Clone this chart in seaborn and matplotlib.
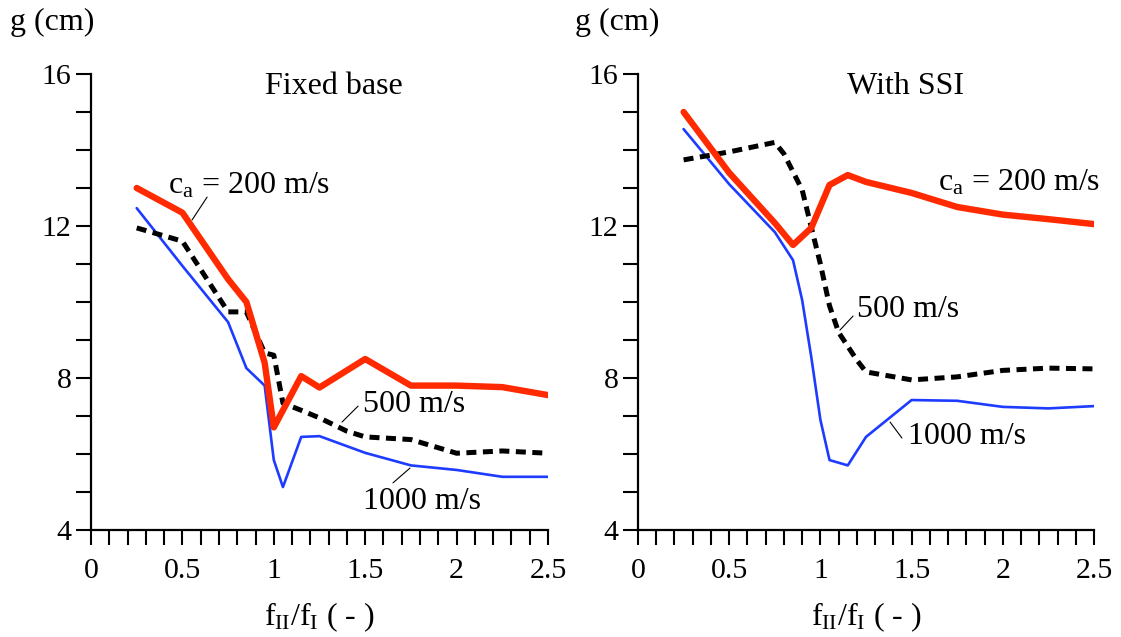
import matplotlib
matplotlib.use("Agg")
import matplotlib.pyplot as plt
import numpy as np
import pandas as pd
import seaborn as sns

# ---- data ----
# fixed base
fb_x_200 = [0.25, 0.5, 0.75, 0.85, 0.95, 1.0, 1.15, 1.25, 1.5, 1.75, 2.0, 2.25, 2.5]
fb_g_200 = [13.0, 12.35, 10.6, 10.0, 8.4, 6.7, 8.05, 7.75, 8.5, 7.8, 7.8, 7.76, 7.55]
fb_x_500 = [0.25, 0.5, 0.75, 0.85, 0.95, 1.0, 1.05, 1.15, 1.25, 1.4, 1.5, 1.75, 2.0, 2.25, 2.5]
fb_g_500 = [11.95, 11.6, 9.74, 9.74, 8.66, 8.6, 7.34, 7.15, 6.95, 6.6, 6.45, 6.38, 6.02, 6.08, 6.02]
fb_x_1000 = [0.25, 0.5, 0.75, 0.85, 0.95, 1.0, 1.05, 1.15, 1.25, 1.5, 1.75, 2.0, 2.25, 2.5]
fb_g_1000 = [12.47, 10.95, 9.47, 8.26, 7.8, 5.84, 5.13, 6.45, 6.47, 6.03, 5.7, 5.58, 5.4, 5.4]

# with SSI
ssi_x_200 = [0.25, 0.5, 0.75, 0.85, 0.95, 1.05, 1.15, 1.25, 1.5, 1.75, 2.0, 2.25, 2.5]
ssi_g_200 = [15.0, 13.4, 12.08, 11.5, 11.95, 13.08, 13.34, 13.16, 12.87, 12.5, 12.3, 12.18, 12.05]
ssi_x_500 = [0.25, 0.5, 0.75, 0.8, 0.9, 0.95, 1.0, 1.05, 1.1, 1.2, 1.25, 1.5, 1.75, 2.0, 2.25, 2.5]
ssi_g_500 = [13.74, 13.95, 14.2, 13.9, 12.95, 11.97, 11.0, 9.9, 9.2, 8.47, 8.16, 7.95, 8.03, 8.2, 8.26, 8.24]
ssi_x_1000 = [0.25, 0.5, 0.75, 0.85, 0.9, 0.95, 1.0, 1.05, 1.15, 1.25, 1.5, 1.75, 2.0, 2.25, 2.5]
ssi_g_1000 = [14.55, 13.1, 11.84, 11.1, 10.05, 8.55, 6.9, 5.84, 5.7, 6.45, 7.42, 7.4, 7.24, 7.2, 7.26]

titles = ["Fixed base", "With SSI"]
x_ticks = [0, 0.5, 1, 1.5, 2, 2.5]
x_tick_labels = ["0", "0.5", "1", "1.5", "2", "2.5"]
y_ticks = [4, 8, 12, 16]

sns.set_style("ticks")
plt.rcParams["font.family"] = ["Liberation Serif", "DejaVu Serif"]
plt.rcParams["mathtext.fontset"] = "custom"
plt.rcParams["mathtext.rm"] = "Liberation Serif"
plt.rcParams["mathtext.it"] = "Liberation Serif:italic"
for k in ["text.color", "axes.labelcolor", "xtick.color", "ytick.color", "axes.edgecolor"]:
    plt.rcParams[k] = "black"
FS = 23      # labels
TFS = 21.5   # tick labels

fig = plt.figure(figsize=(11.21, 6.37), dpi=100)
ax1 = fig.add_axes([91 / 1121, 107 / 637, 457 / 1121, 456 / 637])
ax2 = fig.add_axes([638 / 1121, 107 / 637, 456 / 1121, 456 / 637])

panels = [
    (ax1, (fb_x_200, fb_g_200), (fb_x_500, fb_g_500), (fb_x_1000, fb_g_1000)),
    (ax2, (ssi_x_200, ssi_g_200), (ssi_x_500, ssi_g_500), (ssi_x_1000, ssi_g_1000)),
]

for ax, s200, s500, s1000 in panels:
    sns.lineplot(x=s1000[0], y=s1000[1], ax=ax, color="#1e3cff", lw=1.9, sort=False)
    sns.lineplot(x=s500[0], y=s500[1], ax=ax, color="black", lw=3.6, sort=False,
                 dashes=False)
    ax.lines[-1].set_dashes((2.0, 1.3))
    sns.lineplot(x=s200[0], y=s200[1], ax=ax, color="#ff2a00", lw=4.6, sort=False)

    ax.set_xlim(0, 2.5)
    ax.set_ylim(4, 16)
    for sp in ["top", "right"]:
        ax.spines[sp].set_visible(False)
    for sp in ["left", "bottom"]:
        ax.spines[sp].set_linewidth(1.6)
        ax.spines[sp].set_color("black")
    ax.set_xticks(x_ticks)
    ax.set_xticklabels(x_tick_labels)
    ax.set_xticks(np.arange(0, 2.51, 0.1), minor=True)
    ax.set_yticks(y_ticks)
    ax.set_yticks(np.arange(4, 16.1, 1), minor=True)
    ax.tick_params(axis="both", which="both", length=11, width=1.5, color="black",
                   labelsize=TFS, direction="out", labelcolor="black")
    ax.tick_params(axis="x", which="both", pad=9)
    ax.tick_params(axis="y", which="both", pad=3)
    ax.set_xlabel(r"f$_{\rm II}$/f$_{\rm I}$ ( - )", fontsize=FS, labelpad=12)
    ax.set_ylabel("")
    ax.patch.set_alpha(0)

ax1.text(1.33, 15.68, titles[0], fontsize=FS, ha="center", va="center")
ax2.text(1.464, 15.68, titles[1], fontsize=FS, ha="center", va="center")

lead = dict(arrowstyle="-", color="black", lw=0.8, shrinkA=0, shrinkB=0)
# left panel labels
ax1.text(0.42, 13.05, r"c$_{\rm a}$ = 200 m/s", fontsize=FS, va="center")
ax1.annotate("", xy=(0.553, 12.16), xytext=(0.635, 12.76), arrowprops=lead)
ax1.text(1.49, 7.29, "500 m/s", fontsize=FS, va="center")
ax1.annotate("", xy=(1.373, 6.84), xytext=(1.461, 7.26), arrowprops=lead)
ax1.text(1.49, 4.74, "1000 m/s", fontsize=FS, va="center")
ax1.annotate("", xy=(1.652, 5.24), xytext=(1.745, 5.63), arrowprops=lead)
# right panel labels
ax2.text(1.645, 13.13, r"c$_{\rm a}$ = 200 m/s", fontsize=FS, va="center")
ax2.text(1.20, 9.79, "500 m/s", fontsize=FS, va="center")
ax2.annotate("", xy=(1.107, 9.26), xytext=(1.179, 9.63), arrowprops=lead)
ax2.text(1.48, 6.45, "1000 m/s", fontsize=FS, va="center")
ax2.annotate("", xy=(1.382, 6.84), xytext=(1.447, 6.42), arrowprops=lead)

fig.text(10 / 1121, 1 - 22 / 637, "g (cm)", fontsize=FS, va="center", ha="left")
fig.text(575 / 1121, 1 - 22 / 637, "g (cm)", fontsize=FS, va="center", ha="left")

fig.savefig("out.png", dpi=100)
